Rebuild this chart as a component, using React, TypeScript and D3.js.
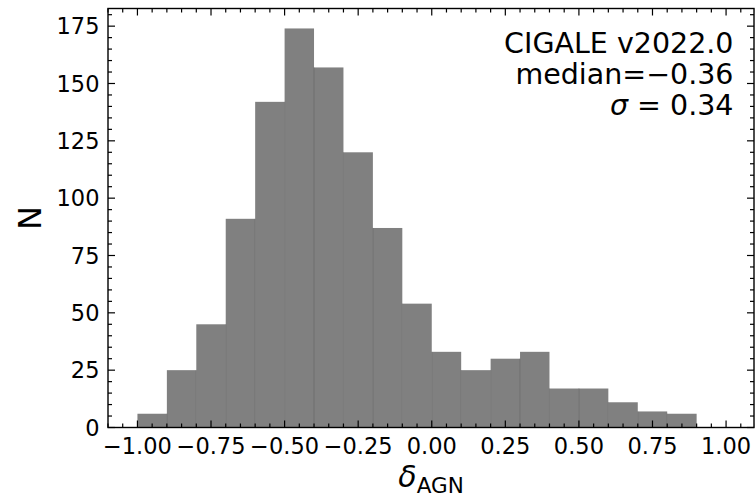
import React from 'react';
import * as d3 from 'd3';

// histogram of delta_AGN
const binEdges = [-1.0, -0.9, -0.8, -0.7, -0.6, -0.5, -0.4, -0.3, -0.2, -0.1, 0.0, 0.1, 0.2, 0.3, 0.4, 0.5, 0.6, 0.7, 0.8, 0.9];
const counts = [6, 25, 45, 91, 142, 174, 157, 120, 87, 54, 33, 25, 30, 33, 17, 17, 11, 7, 6];

const xTicks = [-1.0, -0.75, -0.5, -0.25, 0.0, 0.25, 0.5, 0.75, 1.0];
const xTickLabels = ['\u22121.00', '\u22120.75', '\u22120.50', '\u22120.25', '0.00', '0.25', '0.50', '0.75', '1.00'];
const yTicks = [0, 25, 50, 75, 100, 125, 150, 175];
const yTickLabels = ['0', '25', '50', '75', '100', '125', '150', '175'];

const annotation = ['CIGALE v2022.0', 'median=\u22120.36'];

const W = 755;
const H = 497;
const m = { left: 108, top: 8.5, right: 754, bottom: 427.5 };
const font = '"DejaVu Sans", sans-serif';

export default function App() {
  const x = d3.scaleLinear().domain([-1.1, 1.1]).range([m.left, 755.5]);
  const y = d3.scaleLinear().domain([0, 182.7]).range([m.bottom, m.top]);

  const xMinor = d3.range(-1.1, 1.1001, 0.05).filter(v => Math.abs(Math.round(v * 4) - v * 4) > 1e-6);
  const yMinor = d3.range(0, 183, 5).filter(v => v % 25 !== 0);

  const bars = counts.map((c, i) => ({ x0: binEdges[i], x1: binEdges[i] + 0.1, c }));

  return (
    <svg width={W} height={H} style={{ position: 'absolute', left: 0, top: 0, background: '#fff' }} fontFamily={font}>
      <defs>
        <clipPath id="plot">
          <rect x={m.left} y={m.top} width={m.right - m.left} height={m.bottom - m.top} />
        </clipPath>
      </defs>
      <g clipPath="url(#plot)">
        {bars.map((b, i) => (
          <rect key={i} x={x(b.x0)} y={y(b.c)} width={x(b.x1) - x(b.x0)} height={y(0) - y(b.c)} fill="#808080" />
        ))}
        {bars.slice(1).map((b, i) => (
          <line key={'s' + i} x1={x(b.x0)} x2={x(b.x0)} y1={y(Math.min(b.c, bars[i].c))} y2={y(0)}
            stroke="#5e5e5e" strokeWidth={0.8} strokeOpacity={0.7} />
        ))}
      </g>

      {/* ticks, inward on all sides */}
      <g stroke="#000" strokeWidth={1.2}>
        {xTicks.map((t, i) => (
          <g key={'xt' + i}>
            <line x1={x(t)} x2={x(t)} y1={m.bottom} y2={m.bottom - 7} />
            <line x1={x(t)} x2={x(t)} y1={m.top} y2={m.top + 7} />
          </g>
        ))}
        {xMinor.map((t, i) => (
          <g key={'xm' + i}>
            <line x1={x(t)} x2={x(t)} y1={m.bottom} y2={m.bottom - 4} />
            <line x1={x(t)} x2={x(t)} y1={m.top} y2={m.top + 4} />
          </g>
        ))}
        {yTicks.map((t, i) => (
          <g key={'yt' + i}>
            <line x1={m.left} x2={m.left + 7} y1={y(t)} y2={y(t)} />
            <line x1={m.right} x2={m.right - 7} y1={y(t)} y2={y(t)} />
          </g>
        ))}
        {yMinor.map((t, i) => (
          <g key={'ym' + i}>
            <line x1={m.left} x2={m.left + 4} y1={y(t)} y2={y(t)} />
            <line x1={m.right} x2={m.right - 4} y1={y(t)} y2={y(t)} />
          </g>
        ))}
      </g>

      <rect x={m.left} y={m.top} width={m.right - m.left} height={m.bottom - m.top} fill="none" stroke="#000" strokeWidth={1.4} />

      {/* tick labels */}
      <g fontSize={22.5} fill="#000">
        {xTicks.map((t, i) => (
          <text key={'xl' + i} x={x(t)} y={453.5} textAnchor="middle">{xTickLabels[i]}</text>
        ))}
        {yTicks.map((t, i) => (
          <text key={'yl' + i} x={99.5} y={y(t) + 8.3} textAnchor="end">{yTickLabels[i]}</text>
        ))}
      </g>

      {/* axis labels */}
      <text transform="translate(41,218) rotate(-90)" textAnchor="middle" fontSize={32}>N</text>
      <text x={431} y={487} textAnchor="middle" fontSize={30}>
        <tspan fontStyle="italic">δ</tspan>
        <tspan fontSize={21.5} dy={6}>AGN</tspan>
      </text>

      {/* annotation */}
      <g fontSize={28.5} textAnchor="end">
        <text x={733.5} y={52.5}>{annotation[0]}</text>
        <text x={733.5} y={83.5}>{annotation[1]}</text>
        <text x={733.5} y={114.5}>
          <tspan fontStyle="italic">σ</tspan>
          <tspan> = 0.34</tspan>
        </text>
      </g>
    </svg>
  );
}
